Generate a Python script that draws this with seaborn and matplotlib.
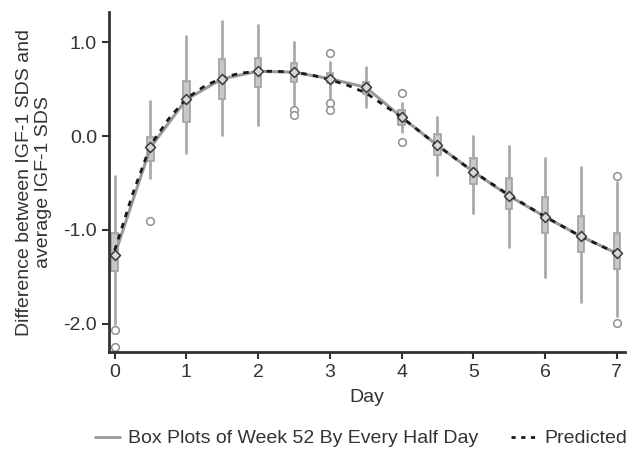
import numpy as np
import pandas as pd
import matplotlib
matplotlib.use("Agg")
import matplotlib.pyplot as plt
import seaborn as sns
from matplotlib.lines import Line2D

# 每半天的箱形圖摘要數值
days = [0, 0.5, 1, 1.5, 2, 2.5, 3, 3.5, 4, 4.5, 5, 5.5, 6, 6.5, 7]
means = [-1.27, -0.12, 0.39, 0.61, 0.69, 0.68, 0.61, 0.52, 0.20, -0.10, -0.38, -0.64, -0.86, -1.07, -1.25]
q1 = [-1.44, -0.27, 0.15, 0.39, 0.52, 0.58, 0.56, 0.45, 0.12, -0.20, -0.51, -0.78, -1.03, -1.24, -1.42]
q3 = [-1.03, -0.01, 0.585, 0.82, 0.83, 0.78, 0.67, 0.58, 0.28, 0.02, -0.23, -0.45, -0.65, -0.85, -1.03]
whis_lo = [-2.00, -0.45, -0.18, 0.01, 0.12, 0.33, 0.38, 0.31, 0.04, -0.41, -0.82, -1.18, -1.50, -1.77, -1.92]
whis_hi = [-0.43, 0.37, 1.07, 1.23, 1.18, 1.00, 0.79, 0.74, 0.35, 0.20, 0.00, -0.11, -0.23, -0.33, -0.49]
outliers = [[-2.07, -2.25], [-0.91], [], [], [], [0.28, 0.22], [0.89, 0.35, 0.28], [],
            [0.46, -0.06], [], [], [], [], [], [-0.43, -1.99]]

# 預測曲線
pred_days = [0, 0.25, 0.5, 0.75, 1, 1.25, 1.5, 1.75, 2, 2.25, 2.5, 2.75, 3, 3.25, 3.5, 3.75,
             4, 4.5, 5, 5.5, 6, 6.5, 7]
pred_vals = [-1.22, -0.62, -0.10, 0.18, 0.40, 0.53, 0.62, 0.67, 0.69, 0.69, 0.68, 0.65, 0.60,
             0.54, 0.46, 0.33, 0.20, -0.10, -0.38, -0.63, -0.86, -1.07, -1.25]

sns.set_style("ticks")
plt.rcParams['font.family'] = ['Liberation Sans', 'DejaVu Sans']

fs = 14
fig = plt.figure(figsize=(6.33, 4.5), dpi=100)
ax = fig.add_axes([0.172, 0.218, 0.815, 0.755])

stats = []
for i in range(len(days)):
    stats.append({
        'med': means[i], 'q1': q1[i], 'q3': q3[i],
        'whislo': whis_lo[i], 'whishi': whis_hi[i],
        'fliers': outliers[i], 'mean': means[i],
    })

ax.bxp(stats, positions=days, widths=0.09, patch_artist=True,
       showcaps=False, showmeans=False,
       boxprops=dict(facecolor='#c8c8c8', edgecolor='#a0a0a0', linewidth=1.2),
       whiskerprops=dict(color='#aaaaaa', linewidth=2),
       medianprops=dict(color='#b0b0b0', linewidth=0),
       flierprops=dict(marker='o', markerfacecolor='white', markeredgecolor='#909090',
                       markersize=5.5, markeredgewidth=1.1),
       manage_ticks=False, zorder=2)

df_mean = pd.DataFrame({'Day': days, 'mean': means})
df_pred = pd.DataFrame({'Day': pred_days, 'pred': pred_vals})

sns.lineplot(data=df_mean, x='Day', y='mean', ax=ax, color='#9a9a9a', linewidth=2.2, zorder=3)
sns.lineplot(data=df_pred, x='Day', y='pred', ax=ax, color='#1a1a1a', linewidth=2.0,
             linestyle=(0, (2, 2.2)), zorder=4)
ax.scatter(days, means, marker='D', s=26, facecolor='#d8d8d8', edgecolor='#3a3a3a',
           linewidth=1.1, zorder=5)

ax.set_xlim(-0.08, 7.11)
ax.set_ylim(-2.30, 1.32)
ax.set_xticks(range(8))
ax.set_yticks([-2.0, -1.0, 0.0, 1.0])
ax.set_yticklabels(['-2.0', '-1.0', '0.0', '1.0'])

for s in ['top', 'right']:
    ax.spines[s].set_visible(False)
for s in ['left', 'bottom']:
    ax.spines[s].set_color('#333333')
    ax.spines[s].set_linewidth(2)
ax.tick_params(axis='both', colors='#333333', width=1.5, length=5, labelsize=fs,
               labelcolor='#333333')

ax.set_xlabel('Day', fontsize=fs, color='#333333', labelpad=6)
ax.set_ylabel('Difference between IGF-1 SDS and\naverage IGF-1 SDS', fontsize=fs,
              color='#333333', linespacing=1.15, labelpad=8)

handles = [Line2D([0], [0], color='#9a9a9a', linewidth=2),
           Line2D([0], [0], color='#1a1a1a', linewidth=2, linestyle=(0, (1.5, 2)))]
fig.legend(handles, ['Box Plots of Week 52 By Every Half Day', 'Predicted'],
           loc='lower center', bbox_to_anchor=(0.57, -0.033), ncol=2, frameon=False,
           fontsize=fs, handlelength=1.3, handletextpad=0.4, columnspacing=1.7,
           labelcolor='#333333')

fig.savefig('out.png', dpi=100)
